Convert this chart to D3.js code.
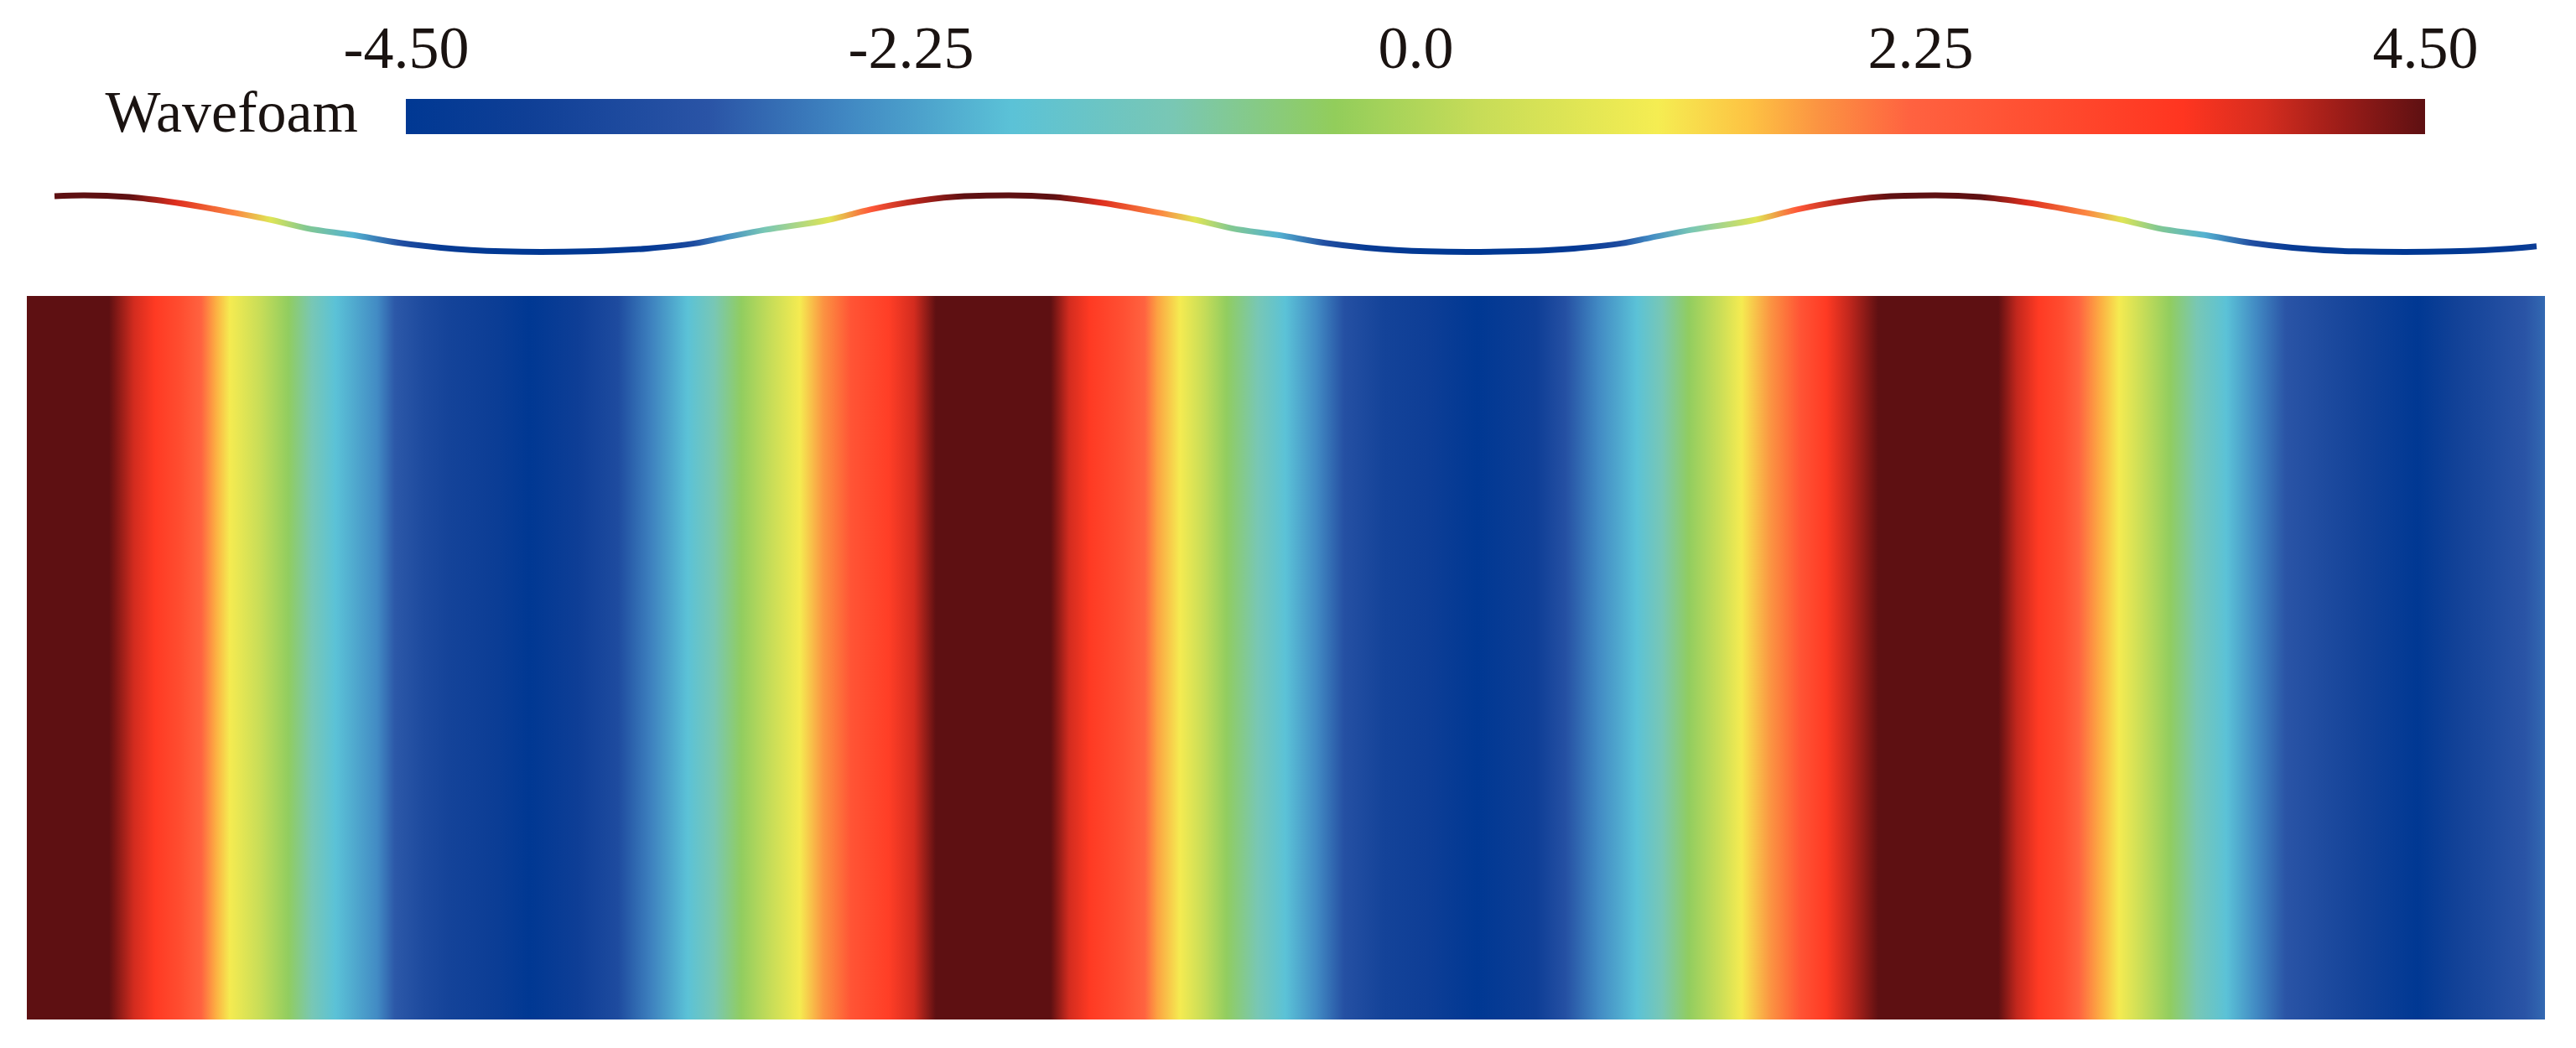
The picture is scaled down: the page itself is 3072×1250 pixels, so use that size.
<!DOCTYPE html>
<html>
<head>
<meta charset="utf-8">
<script src="https://cdn.jsdelivr.net/npm/d3@7"></script>
<style>
  body { margin: 0; background: #fff; }
  svg { display: block; }
</style>
</head>
<body>
<script>
// colour map (position along bar 0..1 and colour)
const cmapStops = [0, 0.06, 0.15, 0.22, 0.30, 0.38, 0.46, 0.53, 0.62, 0.665, 0.70, 0.745, 0.82, 0.88, 0.92, 0.96, 1.0];
const cmapColors = ['#003893', '#0f3f96', '#2a54a6', '#4189c3', '#5bc2d7', '#79c7b4', '#92cd5b', '#c6dc58',
  '#f5ed52', '#fdc343', '#fb9342', '#ff6240', '#ff4a2e', '#ff3520', '#d62d1f', '#991c18', '#5e1012'];

const tickValues = [-4.5, -2.25, 0, 2.25, 4.5];
const tickLabels = ['-4.50', '-2.25', '0.0', '2.25', '4.50'];

// field along the flume, x in m
const fieldX = [0.00, 0.58, 0.98, 1.28, 1.53, 1.83, 2.08, 2.26, 2.42, 2.78, 3.12, 3.40, 3.68, 4.18, 4.39, 4.73,
  5.04, 5.61, 5.99, 6.58, 7.05, 7.45, 7.88, 8.20, 8.52, 8.88, 9.22, 9.50, 9.83, 10.28, 10.58, 10.84, 11.48,
  12.21, 12.43, 12.68, 13.08, 13.33, 13.48, 13.75, 14.03, 14.31, 14.68, 15.01, 15.38, 15.71, 16.18,
  16.70, 17.30, 18.00, 18.35, 18.75, 19.20, 19.50, 19.82, 20.18, 20.45, 20.80, 21.15, 21.46, 21.73, 22.08, 22.78,
  23.51, 23.73, 23.99, 24.28, 24.47, 24.74, 24.95, 25.23, 25.56, 25.88, 26.23, 26.58, 26.94, 27.78,
  28.51, 28.95, 29.42, 29.79, 30.03];
const fieldValue = [5.2, 5.2, 4.5, 3.8, 3.3, 2.8, 2.2, 1.6, 1.1, 0.3, -0.4, -1.1, -1.8, -2.5, -3.1, -3.55,
  -3.8, -4.1, -4.5, -4.0, -3.5, -2.6, -1.8, -1.1, -0.4, 0.3, 1.1, 1.8, 2.6, 3.2, 3.8, 4.5, 5.2,
  4.5, 3.8, 3.3, 2.7, 2.2, 1.7, 1.1, 0.3, -0.4, -1.1, -1.8, -2.5, -3.3, -3.8,
  -4.0, -4.5, -4.0, -3.3, -2.5, -1.8, -1.1, -0.4, 0.3, 1.1, 1.8, 2.6, 3.3, 3.9, 4.5, 5.2,
  4.5, 3.9, 3.3, 2.8, 2.2, 1.6, 1.1, 0.3, -0.4, -1.1, -1.8, -2.5, -3.15, -3.8,
  -4.5, -3.9, -3.5, -3.15, -2.9];

// surface profile above the field
const waveX = [0.33, 0.68, 1.22, 1.78, 2.48, 2.90, 3.33, 3.89, 4.45, 4.94, 5.68, 6.13, 6.68, 7.40, 7.96, 8.31,
  8.80, 9.57, 10.06, 10.62, 11.18, 11.71, 12.25, 12.81, 13.51, 13.93, 14.36, 14.92, 15.48, 15.97, 16.71,
  17.18, 17.73, 18.45, 19.01, 19.36, 19.85, 20.62, 21.11, 21.67, 22.23, 22.76, 23.30, 23.86, 24.56,
  24.98, 25.41, 25.97, 26.53, 27.02, 27.76, 28.36, 28.91, 29.63, 29.93];
const waveEta = [4.85, 5.0, 4.7, 3.7, 1.9, 0.7, -0.8, -2.0, -3.4, -4.25, -4.9, -5.0, -4.9, -4.4, -3.5, -2.5,
  -1.1, 0.7, 2.5, 4.0, 4.85, 5.0, 4.7, 3.7, 1.9, 0.7, -0.8, -2.0, -3.4, -4.25, -4.9,
  -5.0, -4.9, -4.4, -3.5, -2.5, -1.1, 0.7, 2.5, 4.0, 4.85, 5.0, 4.7, 3.7, 1.9,
  0.7, -0.8, -2.0, -3.4, -4.25, -4.9, -5.0, -4.9, -4.4, -4.0];

const W = 3072, H = 1250;
const svg = d3.select('body').append('svg').attr('width', W).attr('height', H);
svg.append('rect').attr('width', W).attr('height', H).attr('fill', '#fff');

const defs = svg.append('defs');
const vScale = d3.scaleLinear().domain([-4.5, 4.5]).range([484, 2892]);
const color = d3.scaleLinear()
  .domain(cmapStops.map(t => -4.5 + 9 * t))
  .range(cmapColors)
  .clamp(true);

const x = d3.scaleLinear().domain([0, 30.03]).range([32, 3035]);
const yWave = d3.scaleLinear().domain([-5, 5]).range([300.5, 233]);

// colour bar
const barGrad = defs.append('linearGradient').attr('id', 'barGrad');
barGrad.selectAll('stop').data(cmapStops).join('stop')
  .attr('offset', d => d)
  .attr('stop-color', (d, i) => cmapColors[i]);
svg.append('rect')
  .attr('x', vScale(-4.5)).attr('y', 118)
  .attr('width', vScale(4.5) - vScale(-4.5)).attr('height', 42)
  .attr('fill', 'url(#barGrad)');

const axis = svg.append('g')
  .attr('transform', 'translate(0,118)')
  .call(d3.axisTop(vScale).tickValues(tickValues).tickFormat((d, i) => tickLabels[i]).tickSize(0).tickPadding(37));
axis.select('.domain').remove();
axis.selectAll('text')
  .attr('font-family', '"Liberation Serif", "Times New Roman", serif')
  .attr('font-size', 72)
  .attr('fill', '#1a1311');

svg.append('text')
  .attr('x', 427).attr('y', 157)
  .attr('text-anchor', 'end')
  .attr('font-family', '"Liberation Serif", "Times New Roman", serif')
  .attr('font-size', 70)
  .attr('fill', '#1a1311')
  .text('Wavefoam');

// field
const x0 = x(fieldX[0]), x1 = x(fieldX[fieldX.length - 1]);
const fieldGrad = defs.append('linearGradient').attr('id', 'fieldGrad')
  .attr('gradientUnits', 'userSpaceOnUse')
  .attr('x1', x0).attr('x2', x1).attr('y1', 0).attr('y2', 0);
fieldGrad.selectAll('stop').data(fieldX).join('stop')
  .attr('offset', d => (x(d) - x0) / (x1 - x0))
  .attr('stop-color', (d, i) => color(fieldValue[i]));
svg.append('rect')
  .attr('x', x0).attr('y', 353)
  .attr('width', x1 - x0).attr('height', 863)
  .attr('fill', 'url(#fieldGrad)');

// wave line
const w0 = x(waveX[0]), w1 = x(waveX[waveX.length - 1]);
const waveGrad = defs.append('linearGradient').attr('id', 'waveGrad')
  .attr('gradientUnits', 'userSpaceOnUse')
  .attr('x1', w0).attr('x2', w1).attr('y1', 0).attr('y2', 0);
waveGrad.selectAll('stop').data(waveX).join('stop')
  .attr('offset', d => (x(d) - w0) / (w1 - w0))
  .attr('stop-color', (d, i) => color(waveEta[i]));

const line = d3.line()
  .x(d => x(d[0]))
  .y(d => yWave(d[1]))
  .curve(d3.curveMonotoneX);
svg.append('path')
  .datum(waveX.map((d, i) => [d, waveEta[i]]))
  .attr('d', line)
  .attr('fill', 'none')
  .attr('stroke', 'url(#waveGrad)')
  .attr('stroke-width', 7);
</script>
</body>
</html>
